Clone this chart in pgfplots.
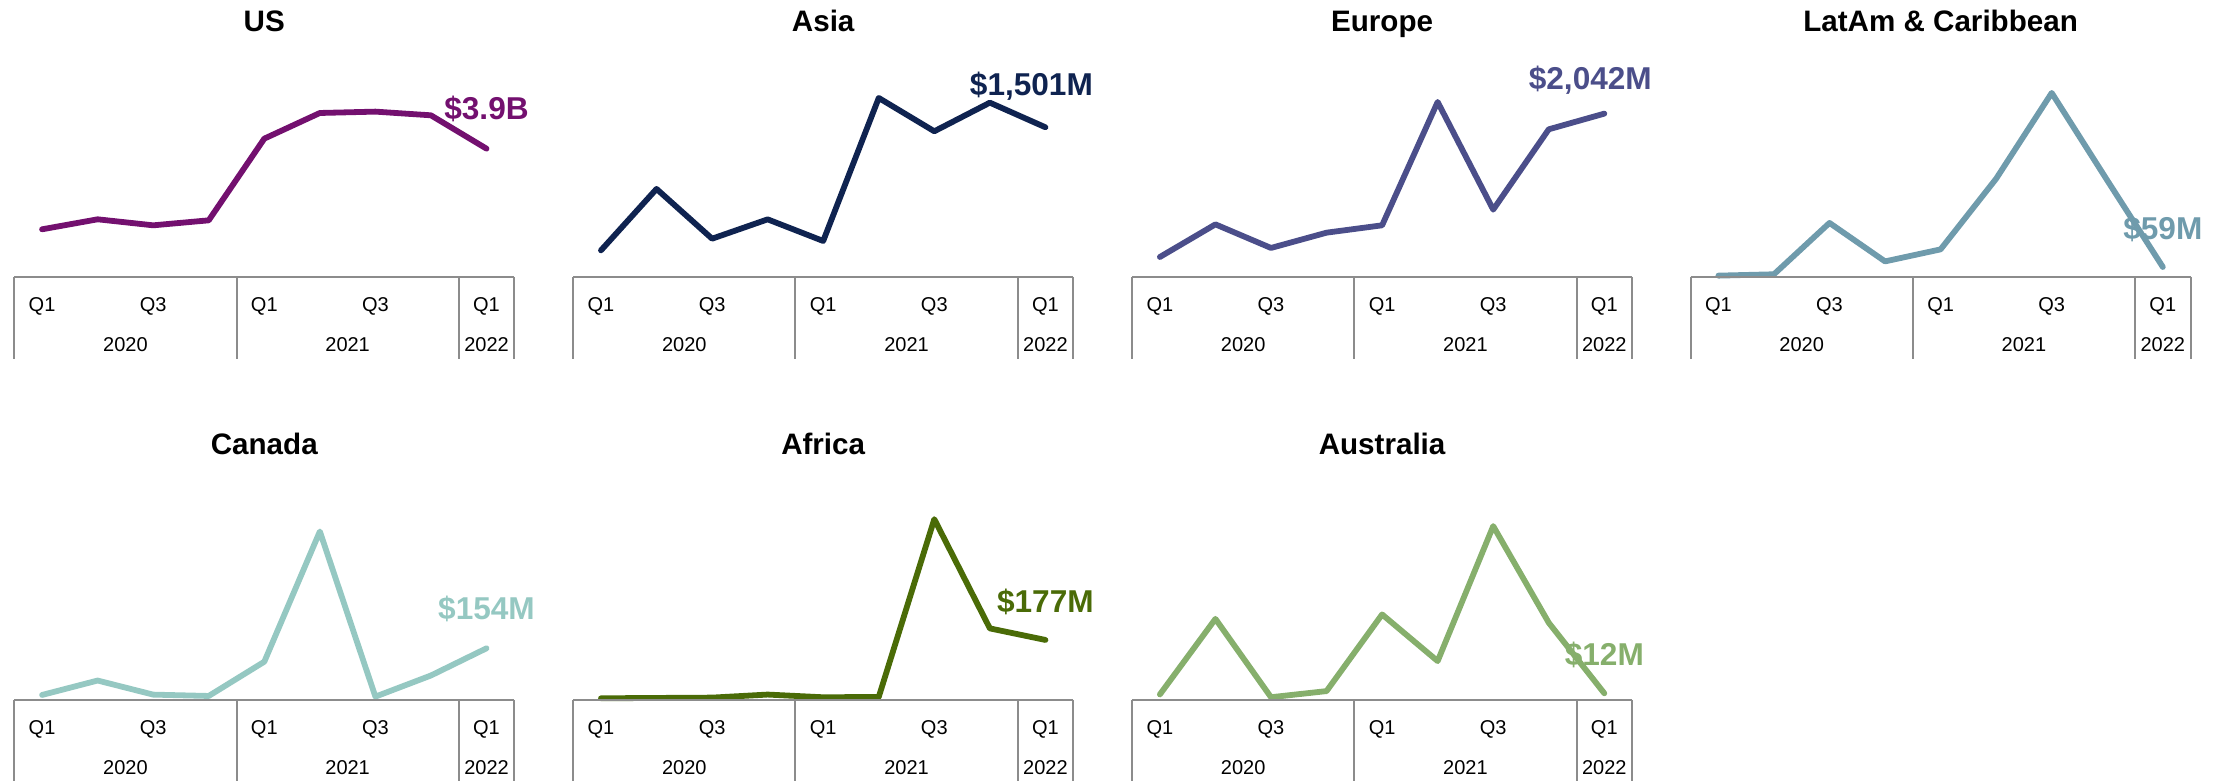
\documentclass[border=0pt]{standalone}
\usepackage{pgfplots}
\pgfplotsset{compat=1.18}
\usepackage{fontspec}
\setmainfont{Liberation Sans}
\definecolor{cUS}{RGB}{115,16,111}
\definecolor{cAsia}{RGB}{15,35,80}
\definecolor{cEur}{RGB}{75,78,138}
\definecolor{cLat}{RGB}{111,155,172}
\definecolor{cCan}{RGB}{149,200,194}
\definecolor{cAfr}{RGB}{74,107,7}
\definecolor{cAus}{RGB}{134,175,108}
\definecolor{axgray}{RGB}{140,140,140}
\pgfplotsset{
  panel/.style={
    scale only axis, width=250pt, height=95pt,
    anchor=south west,
    xmin=-0.5, xmax=8.5, ymin=0,
    axis line style={draw=none},
    ytick=\empty,
    xtick={0,2,4,6,8},
    xticklabels={Q1,Q3,Q1,Q3,Q1},
    major tick length=0pt,
    xticklabel style={anchor=center, yshift=-14.5pt, font=\fontsize{10}{11}\selectfont, text=black},
    clip=false,
    title style={at={(0.5,0)}, anchor=base, yshift=116.5pt, font=\fontsize{14.8}{16}\selectfont\bfseries},
  },
  dline/.style={line width=2.9pt, line cap=round, line join=round},
}
\newcommand{\catbox}{%
  \draw[axgray, line width=1pt] (axis cs:-0.5,0) -- (axis cs:8.5,0);
  \draw[axgray, line width=1pt] (axis cs:-0.5,0) -- ++(0pt,-41pt);
  \draw[axgray, line width=1pt] (axis cs:3.5,0) -- ++(0pt,-41pt);
  \draw[axgray, line width=1pt] (axis cs:7.5,0) -- ++(0pt,-41pt);
  \draw[axgray, line width=1pt] (axis cs:8.5,0) -- ++(0pt,-41pt);
  \node[font=\fontsize{10}{11}\selectfont, anchor=center, yshift=-34pt] at (axis cs:1.5,0) {2020};
  \node[font=\fontsize{10}{11}\selectfont, anchor=center, yshift=-34pt] at (axis cs:5.5,0) {2021};
  \node[font=\fontsize{10}{11}\selectfont, anchor=center, yshift=-34pt] at (axis cs:8,0) {2022};
}
\newcommand{\vlabel}[5]{\node[font=\fontsize{15.8}{17}\selectfont\bfseries, text=#1, anchor=center, xshift=#3, yshift=#4] at (axis cs:8,#2) {#5};}
\begin{document}
\begin{tikzpicture}
\useasboundingbox (0,0) rectangle (1114.5pt,390.5pt);
% US
\begin{axis}[panel, at={(7.15pt,252pt)}, ymax=5774, title={US}]
\addplot[dline, cUS] coordinates {(0,1449) (1,1753) (2,1570) (3,1722) (4,4204) (5,4984) (6,5025) (7,4913) (8,3900)};
\catbox
\vlabel{cUS}{3900}{0pt}{20pt}{\$3.9B}
\end{axis}
% Asia
\begin{axis}[panel, at={(286.6pt,252pt)}, ymax=1905, title={Asia}]
\addplot[dline, cAsia] coordinates {(0,267) (1,883) (2,384) (3,578) (4,361) (5,1795) (6,1461) (7,1748) (8,1501)};
\catbox
\vlabel{cAsia}{1501}{-7pt}{20.5pt}{\$1,501M}
\end{axis}
% Europe
\begin{axis}[panel, at={(566.05pt,252pt)}, ymax=2375, title={Europe}]
\addplot[dline, cEur] coordinates {(0,250) (1,658) (2,363) (3,554) (4,646) (5,2188) (6,842) (7,1846) (8,2042)};
\catbox
\vlabel{cEur}{2042}{-7pt}{16.5pt}{\$2,042M}
\end{axis}
% LatAm
\begin{axis}[panel, at={(845.3pt,252pt)}, ymax=1121, title={LatAm \& Caribbean}]
\addplot[dline, cLat] coordinates {(0,8) (1,16) (2,319) (3,92) (4,163) (5,580) (6,1086) (7,570) (8,59)};
\catbox
\vlabel{cLat}{59}{0pt}{19pt}{\$59M}
\end{axis}
% Canada
\begin{axis}[panel, at={(7.15pt,40.5pt)}, ymax=566, title={Canada}]
\addplot[dline, cCan] coordinates {(0,15) (1,58) (2,16) (3,12) (4,114) (5,502) (6,10) (7,73) (8,154)};
\catbox
\vlabel{cCan}{154}{0pt}{19.5pt}{\$154M}
\end{axis}
% Africa
\begin{axis}[panel, at={(286.6pt,40.5pt)}, ymax=560, title={Africa}]
\addplot[dline, cAfr] coordinates {(0,5) (1,6) (2,7) (3,16) (4,8) (5,9) (6,533) (7,211) (8,177)};
\catbox
\vlabel{cAfr}{177}{0pt}{19pt}{\$177M}
\end{axis}
% Australia
\begin{axis}[panel, at={(566.05pt,40.5pt)}, ymax=342, title={Australia}]
\addplot[dline, cAus] coordinates {(0,10) (1,146) (2,5) (3,16) (4,154) (5,70) (6,313) (7,139) (8,12)};
\catbox
\vlabel{cAus}{12}{0pt}{19pt}{\$12M}
\end{axis}
\end{tikzpicture}
\end{document}
